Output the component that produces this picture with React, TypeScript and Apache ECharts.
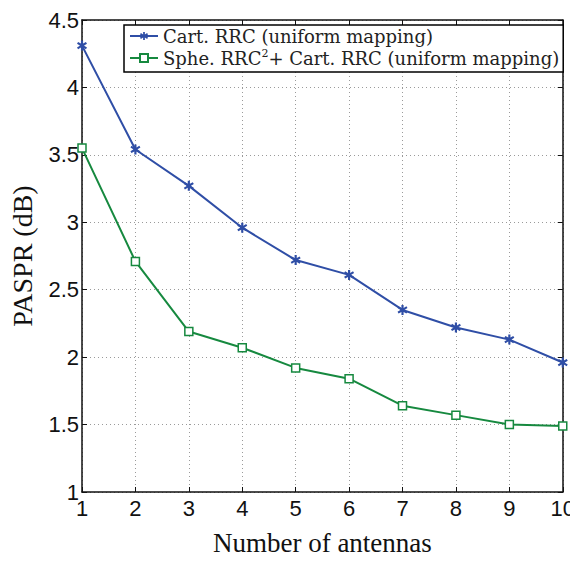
import React, { useEffect, useRef } from "react";
import * as echarts from "echarts";

const antennas = [1, 2, 3, 4, 5, 6, 7, 8, 9, 10];
const cartRRC = [4.31, 3.54, 3.27, 2.96, 2.72, 2.61, 2.35, 2.22, 2.13, 1.96];
const spheCart = [3.55, 2.71, 2.19, 2.07, 1.92, 1.84, 1.64, 1.57, 1.5, 1.49];
const seriesNames = ["Cart. RRC (uniform mapping)", "Sphe. RRC2+ Cart. RRC (uniform mapping)"];

const BLUE = "#2f4ea6";
const GREEN = "#16893f";
const STAR =
  "path://M4,0 L6,0 L6,3 L8.6,1.4 L9.6,3.1 L7,4.9 L7,5.1 L9.6,6.9 L8.6,8.6 L6,7 L6,10 L4,10 L4,7 L1.4,8.6 L0.4,6.9 L3,5.1 L3,4.9 L0.4,3.1 L1.4,1.4 L4,3 Z";

export default function App() {
  const ref = useRef<HTMLDivElement>(null);
  useEffect(() => {
    if (!ref.current) return;
    const chart = echarts.init(ref.current, undefined, { renderer: "svg" });
    const serif = "'Liberation Serif', 'DejaVu Serif', serif";
    const legendSerif = "'DejaVu Serif', 'Liberation Serif', serif";
    const sans = "'Liberation Sans', Arial, sans-serif";
    const gridLine = { show: true, lineStyle: { color: "#9a9a9a", type: [1, 3] as any, width: 1 } };
    chart.setOption({
      animation: false,
      backgroundColor: "#fff",
      grid: { left: 74, top: 20, right: 15, bottom: 51, containLabel: false },
      legend: {
        left: 124,
        top: 25,
        orient: "vertical",
        itemGap: 2,
        itemWidth: 28,
        itemHeight: 10,
        padding: [1, 4, 4, 5],
        borderColor: "#000",
        borderWidth: 1.5,
        backgroundColor: "#fff",
        data: seriesNames,
        formatter: (name: string) =>
          name === seriesNames[1] ? "Sphe. RRC{sup|2}+ Cart. RRC (uniform mapping)" : name,
        textStyle: {
          fontFamily: legendSerif,
          fontSize: 18,
          lineHeight: 20,
          color: "#222",
          rich: {
            sup: { fontFamily: legendSerif, fontSize: 11, verticalAlign: "top", lineHeight: 20, padding: [0, 0, 8, 0], color: "#222" },
          },
        },
      },
      xAxis: [
        {
          type: "value",
          min: 1,
          max: 10,
          interval: 1,
          name: "Number of antennas",
          nameLocation: "middle",
          nameGap: 37,
          nameTextStyle: { fontFamily: serif, fontSize: 27, color: "#111" },
          axisLine: { show: true, onZero: false, lineStyle: { color: "#111", width: 1.5 } },
          axisTick: { show: true, inside: true, length: 5, lineStyle: { color: "#111" } },
          axisLabel: { fontFamily: sans, fontSize: 22, lineHeight: 20, color: "#111", margin: 6 },
          splitLine: gridLine,
        },
        {
          type: "value",
          position: "top",
          min: 1,
          max: 10,
          interval: 1,
          axisLine: { show: true, onZero: false, lineStyle: { color: "#111", width: 1.5 } },
          axisTick: { show: true, inside: true, length: 5, lineStyle: { color: "#111" } },
          axisLabel: { show: false },
          splitLine: { show: false },
        },
      ],
      yAxis: [
        {
          type: "value",
          min: 1,
          max: 4.5,
          interval: 0.5,
          name: "PASPR (dB)",
          nameLocation: "middle",
          nameGap: 46,
          nameTextStyle: { fontFamily: serif, fontSize: 28, color: "#111" },
          axisLine: { show: true, onZero: false, lineStyle: { color: "#111", width: 1.5 } },
          axisTick: { show: true, inside: true, length: 5, lineStyle: { color: "#111" } },
          axisLabel: { fontFamily: sans, fontSize: 22, lineHeight: 12, color: "#111", margin: 3 },
          splitLine: gridLine,
        },
        {
          type: "value",
          position: "right",
          min: 1,
          max: 4.5,
          interval: 0.5,
          axisLine: { show: true, onZero: false, lineStyle: { color: "#111", width: 1.5 } },
          axisTick: { show: true, inside: true, length: 5, lineStyle: { color: "#111" } },
          axisLabel: { show: false },
          splitLine: { show: false },
        },
      ],
      series: [
        {
          name: seriesNames[0],
          type: "line",
          data: antennas.map((a, i) => [a, cartRRC[i]]),
          symbol: STAR,
          symbolSize: 10,
          showAllSymbol: true,
          lineStyle: { color: BLUE, width: 2 },
          itemStyle: { color: BLUE, borderWidth: 0 },
          z: 3,
        },
        {
          name: seriesNames[1],
          type: "line",
          data: antennas.map((a, i) => [a, spheCart[i]]),
          symbol: "rect",
          symbolSize: 8,
          showAllSymbol: true,
          lineStyle: { color: GREEN, width: 2 },
          itemStyle: { color: "#fff", borderColor: GREEN, borderWidth: 1.5 },
          z: 3,
        },
      ],
    });
    return () => chart.dispose();
  }, []);
  return <div ref={ref} style={{ width: 578, height: 561, margin: -8 }} />;
}
